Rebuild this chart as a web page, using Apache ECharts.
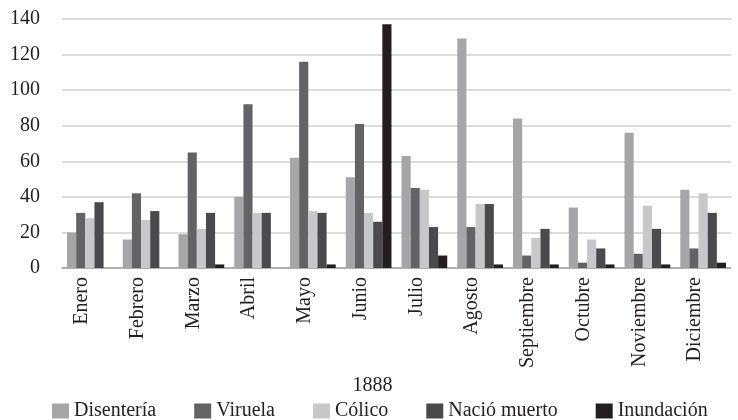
<!DOCTYPE html>
<html>
<head>
<meta charset="utf-8">
<script src="https://cdn.jsdelivr.net/npm/echarts@6/dist/echarts.min.js"></script>
<style>
  html, body { margin: 0; padding: 0; background: #fff; }
  #chart { width: 738px; height: 420px; }
</style>
</head>
<body>
<div id="chart"></div>
<script>
// meses de 1888
const months = ['Enero', 'Febrero', 'Marzo', 'Abril', 'Mayo', 'Junio', 'Julio', 'Agosto', 'Septiembre', 'Octubre', 'Noviembre', 'Diciembre']

// valores por causa
const disenteria = [20, 16, 19, 40, 62, 51, 63, 129, 84, 34, 76, 44]
const viruela = [31, 42, 65, 92, 116, 81, 45, 23, 7, 3, 8, 11]
const colico = [28, 27, 22, 31, 32, 31, 44, 36, 17, 16, 35, 42]
const nacioMuerto = [37, 32, 31, 31, 31, 26, 23, 36, 22, 11, 22, 31]
const inundacion = [0, 0, 2, 0, 2, 137, 7, 2, 2, 2, 2, 3]

const seriesNames = ['Disentería', 'Viruela', 'Cólico', 'Nació muerto', 'Inundación']
const seriesValues = [disenteria, viruela, colico, nacioMuerto, inundacion]
const colors = ['#a6a6a8', '#636365', '#c8c8ca', '#4a4a4c', '#231f20']

const FONT = '"Liberation Serif", "DejaVu Serif", serif'

const chart = echarts.init(document.getElementById('chart'))

chart.setOption({
  animation: false,
  color: colors,
  textStyle: { fontFamily: FONT },
  grid: { left: 62, right: 7, top: 19, bottom: 152 },
  legend: {
    data: seriesNames,
    left: 47,
    top: 396,
    itemWidth: 17,
    itemHeight: 15,
    itemGap: 38,
    icon: 'rect',
    textStyle: { fontFamily: FONT, fontSize: 20, color: '#231f20' },
  },
  xAxis: {
    type: 'category',
    data: months,
    name: '1888',
    nameLocation: 'middle',
    nameGap: 102,
    nameTextStyle: { fontFamily: FONT, fontSize: 20, color: '#231f20', padding: [0, 48, 0, 0] },
    axisLine: { lineStyle: { color: '#a3a3a3', width: 1.5 } },
    axisTick: { show: false },
    axisLabel: {
      rotate: 90,
      margin: 9,
      fontFamily: FONT,
      fontSize: 20,
      color: '#231f20',
      verticalAlign: 'bottom',
      lineHeight: 16,
    },
  },
  yAxis: {
    type: 'value',
    min: 0,
    max: 140,
    interval: 20,
    axisLine: { show: false },
    axisTick: { show: false },
    axisLabel: { margin: 22, fontFamily: FONT, fontSize: 20, color: '#231f20' },
    splitLine: { lineStyle: { color: '#d0d0d0', width: 1.5 } },
  },
  series: seriesNames.map((name, i) => ({
    name,
    type: 'bar',
    data: seriesValues[i],
    barGap: '0%',
    barCategoryGap: '18%',
  })),
})
</script>
</body>
</html>
